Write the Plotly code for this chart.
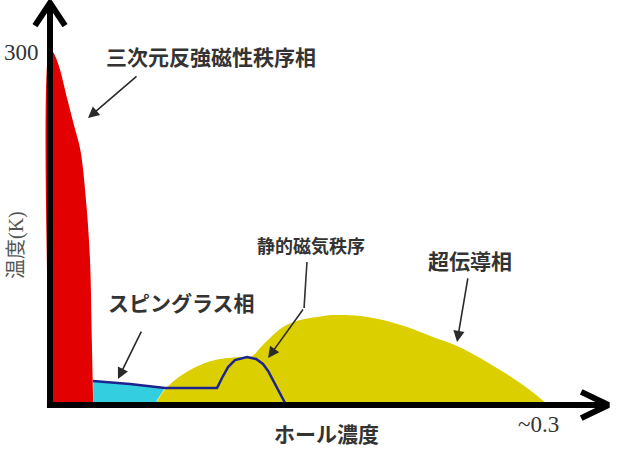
import plotly.graph_objects as go

# ---- data (hole concentration, temperature K) ----
afm_x = [0, 0, 0.003, 0.006, 0.011, 0.015, 0.019, 0.0225, 0.025, 0.026, 0.027]
afm_y = [0, 300, 294, 283, 256, 235, 214, 172, 122, 63, 0]

sg_x = [0.027, 0.027, 0.05, 0.0719, 0.0669, 0.066]
sg_y = [0, 20.2, 17.6, 14.3, 4.2, 0]

sc_x = [0.0656, 0.0706, 0.0781, 0.0875, 0.0969, 0.1063, 0.1188, 0.1263, 0.1313, 0.1375,
        0.1456, 0.1563, 0.1669, 0.1769, 0.1938, 0.2081, 0.225, 0.2394, 0.2544, 0.2688,
        0.2813, 0.2938, 0.3031, 0.3113]
sc_y = [0, 10.9, 21.0, 29.4, 35.3, 38.7, 40.3, 41.2, 47.9, 56.3,
        65.5, 71.4, 73.9, 75.6, 74.8, 71.4, 64.7, 57.1, 49.6, 39.5,
        29.4, 18.5, 9.2, 0]

mag_x = [0.0269, 0.05, 0.0719, 0.1044, 0.1075, 0.1113, 0.1156, 0.1231, 0.1288, 0.1331,
         0.1363, 0.14, 0.1438, 0.1469]
mag_y = [20.2, 17.6, 14.3, 14.3, 22.7, 31.9, 37.8, 40.3, 38.7, 34.5,
         28.6, 19.3, 10.1, 1.7]

labels = ["三次元反強磁性秩序相", "スピングラス相", "静的磁気秩序", "超伝導相"]
label_x = [0.1006, 0.0819, 0.1631, 0.2625]
label_y = [293.3, 86.6, 134.5, 121.8]
label_size = [21, 21, 18, 21]

# arrows: tail -> head
arrow_tail_x = [0.055, 0.0575, 0.1588, 0.2613]
arrow_tail_y = [277.3, 63.0, 81.5, 107.6]
arrow_head_x = [0.02375, 0.0425, 0.1363, 0.2544]
arrow_head_y = [241.2, 21.8, 39.5, 52.9]
bend_x = [0.1606, 0.1588]
bend_y = [120.2, 81.5]

x_label = "ホール濃度"
y_label = "温度(K)"
y_tick = "300"
x_tick = "~0.3"
x_end = 0.349
y_end = 337.8

fig = go.Figure()

fig.add_trace(go.Scatter(x=afm_x, y=afm_y, fill="toself", fillcolor="#e30000",
                         line=dict(width=0, shape="spline"), mode="lines", hoverinfo="skip"))
fig.add_trace(go.Scatter(x=sg_x, y=sg_y, fill="toself", fillcolor="#33cfe0",
                         line=dict(width=0), mode="lines", hoverinfo="skip"))
fig.add_trace(go.Scatter(x=sc_x, y=sc_y, fill="toself", fillcolor="#dccf00",
                         line=dict(width=0, shape="spline"), mode="lines", hoverinfo="skip"))
fig.add_trace(go.Scatter(x=mag_x, y=mag_y, mode="lines", line=dict(color="#1c2490", width=2.5),
                         hoverinfo="skip"))
fig.add_trace(go.Scatter(x=bend_x, y=bend_y, mode="lines", line=dict(color="#333333", width=1.6),
                         hoverinfo="skip"))

# axes with chevron arrowheads
ax_col = "#000000"
fig.add_trace(go.Scatter(x=[0, 0], y=[-2.5, y_end], mode="lines",
                         line=dict(color=ax_col, width=6), hoverinfo="skip"))
fig.add_trace(go.Scatter(x=[-0.0094, 0, 0.0094], y=[y_end - 19, y_end, y_end - 19], mode="lines",
                         line=dict(color=ax_col, width=6), hoverinfo="skip"))
fig.add_trace(go.Scatter(x=[-0.0019, x_end], y=[0, 0], mode="lines",
                         line=dict(color=ax_col, width=6), hoverinfo="skip"))
fig.add_trace(go.Scatter(x=[x_end - 0.017, x_end, x_end - 0.017], y=[11, 0, -11], mode="lines",
                         line=dict(color=ax_col, width=6), hoverinfo="skip"))

for tx, ty, hx, hy in zip(arrow_tail_x, arrow_tail_y, arrow_head_x, arrow_head_y):
    fig.add_annotation(x=hx, y=hy, ax=tx, ay=ty, xref="x", yref="y", axref="x", ayref="y",
                       text="", showarrow=True, arrowhead=2, arrowsize=1.4, arrowwidth=1.6,
                       arrowcolor="#2a2a2a")

cjk = "Noto Sans CJK JP"
for t, lx, ly, s in zip(labels, label_x, label_y, label_size):
    fig.add_annotation(x=lx, y=ly, text=t, showarrow=False,
                       font=dict(family=cjk, size=s, color="#333333", weight="bold"))

fig.add_annotation(x=0.1725, y=-23.5, text=x_label, showarrow=False,
                   font=dict(family=cjk, size=21, color="#333333", weight="bold"))
fig.add_annotation(x=-0.0206, y=134.5, text=y_label, showarrow=False, textangle=-90,
                   font=dict(family="Liberation Serif, Noto Sans CJK JP", size=20, color="#555555"))
fig.add_annotation(x=-0.0181, y=296.6, text=y_tick, showarrow=False,
                   font=dict(family="Liberation Serif", size=23, color="#333333"))
fig.add_annotation(x=0.305, y=-16.0, text=x_tick, showarrow=False,
                   font=dict(family="Liberation Serif", size=23, color="#333333"))

fig.update_layout(
    width=620, height=471, margin=dict(l=0, r=0, t=0, b=0),
    paper_bgcolor="white", plot_bgcolor="white", showlegend=False,
    xaxis=dict(range=[-0.03125, 0.35625], visible=False, fixedrange=True),
    yaxis=dict(range=[-55.46, 340.34], visible=False, fixedrange=True),
)

fig.write_html("out.html")
